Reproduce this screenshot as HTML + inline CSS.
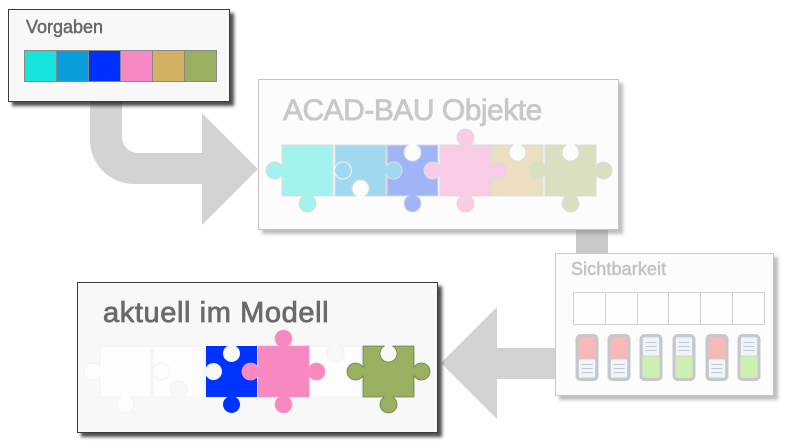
<!DOCTYPE html>
<html><head><meta charset="utf-8">
<style>
html,body{margin:0;padding:0;background:#fff;}
svg{display:block;}
text{font-family:"Liberation Sans",sans-serif;}
</style></head>
<body>
<svg width="790" height="444" viewBox="0 0 790 444" xmlns="http://www.w3.org/2000/svg">
<defs>
<filter id="sd" x="-10%" y="-10%" width="130%" height="130%">
<feDropShadow dx="4" dy="4" stdDeviation="1.5" flood-color="#222" flood-opacity="0.8"/>
</filter>
<filter id="sl" x="-10%" y="-10%" width="130%" height="130%">
<feDropShadow dx="4" dy="4" stdDeviation="1.5" flood-color="#888" flood-opacity="0.55"/>
</filter>
</defs>

<!-- connectors -->
<path d="M90 100 L122 100 L122 137 A16 16 0 0 0 138 153 L202 153 L202 113 L258 169 L202 225 L202 184 L134 184 A44 44 0 0 1 90 140 Z" fill="#d3d3d3"/>
<rect x="576" y="226" width="32" height="28" fill="#c8c8c8"/>
<path d="M556 348 L497 348 L497 307 L441 363 L497 419 L497 379 L556 379 Z" fill="#d2d2d2"/>

<!-- Vorgaben -->
<rect x="8.5" y="9.5" width="221" height="92" fill="#f8f8f8" stroke="#3a3a3a" stroke-width="1" filter="url(#sd)"/>
<text x="26" y="33" font-size="18" fill="#686868" stroke="#686868" stroke-width="0.5">Vorgaben</text>
<g stroke="#888" stroke-width="1">
<rect x="24.5" y="50.5" width="32" height="31" fill="#14e4dc"/>
<rect x="56.5" y="50.5" width="32" height="31" fill="#0c9edc"/>
<rect x="88.5" y="50.5" width="32" height="31" fill="#0030ff"/>
<rect x="120.5" y="50.5" width="32" height="31" fill="#f888c4"/>
<rect x="152.5" y="50.5" width="32" height="31" fill="#d4b062"/>
<rect x="184.5" y="50.5" width="32" height="31" fill="#9ab060"/>
</g>

<!-- ACAD-BAU Objekte -->
<rect x="258.5" y="79.5" width="360" height="150" fill="#fcfcfc" stroke="#c4c4c4" stroke-width="1" filter="url(#sl)"/>
<text x="283" y="120" font-size="30" fill="#c8c8c8" stroke="#c8c8c8" stroke-width="0.8" letter-spacing="-0.5">ACAD-BAU Objekte</text>
<g stroke="#dcdcdc" stroke-width="1">
<path fill="#a2f2ee" d="M282 145 L333 145 L333 196 L311.5 196 A8.5 8.5 0 1 1 303.5 196 L282 196 L282 174.5 A8.5 8.5 0 1 1 282 166.5 Z"/>
<path fill="#a0b4f8" d="M387 145 L408.5 145 A8.5 8.5 0 1 0 416.5 145 L438 145 L438 196 L416.5 196 A8.5 8.5 0 1 1 408.5 196 L387 196 Z"/>
<path fill="#a0d8f0" d="M335 145 L386 145 L386 166.5 A8.5 8.5 0 1 1 386 174.5 L386 196 L364.5 196 A8.5 8.5 0 1 0 356.5 196 L335 196 Z"/>
<circle cx="343" cy="170.5" r="8.5" fill="#a0d8f0" stroke="#f4f4f4"/>
<path fill="#ecdfc0" d="M492 145 L513.5 145 A8.5 8.5 0 1 0 521.5 145 L543 145 L543 196 L492 196 Z"/>
<path fill="#f9cce6" d="M440 145 L461.5 145 A8.5 8.5 0 1 1 469.5 145 L491 145 L491 166.5 A8.5 8.5 0 1 1 491 174.5 L491 196 L469.5 196 A8.5 8.5 0 1 1 461.5 196 L440 196 L440 174.5 A8.5 8.5 0 1 1 440 166.5 Z"/>
<path fill="#d8e0c0" d="M545 145 L566.5 145 A8.5 8.5 0 1 0 574.5 145 L596 145 L596 166.5 A8.5 8.5 0 1 1 596 174.5 L596 196 L574.5 196 A8.5 8.5 0 1 1 566.5 196 L545 196 L545 174.5 A8.5 8.5 0 1 1 545 166.5 Z"/>
</g>

<!-- Sichtbarkeit -->
<rect x="555.5" y="253.5" width="218" height="142" fill="#fcfcfc" stroke="#c8c8c8" stroke-width="1" filter="url(#sl)"/>
<text x="571" y="275" font-size="18" fill="#c2c2c2" stroke="#c2c2c2" stroke-width="0.5" letter-spacing="0.1">Sichtbarkeit</text>
<g stroke="#d6d0d0" stroke-width="1" fill="#fefefe">
<rect x="573.5" y="292.5" width="32" height="32"/>
<rect x="605.5" y="292.5" width="32" height="32"/>
<rect x="637.5" y="292.5" width="31" height="32"/>
<rect x="668.5" y="292.5" width="32" height="32"/>
<rect x="700.5" y="292.5" width="32" height="32"/>
<rect x="732.5" y="292.5" width="32" height="32"/>
</g>

<!-- toggles -->
<g id="tr">
<rect x="575.5" y="334" width="23" height="47" rx="5" fill="#c4c8cc"/>
<rect x="578.5" y="337" width="17" height="41" rx="2" fill="#f6b9b6"/>
<rect x="578.5" y="359" width="17" height="19" rx="2" fill="#eef4fa" stroke="#c8ced4" stroke-width="0.8"/>
<g stroke="#c0c8d0" stroke-width="1"><line x1="581.5" y1="364.5" x2="592.5" y2="364.5"/><line x1="581.5" y1="368.5" x2="592.5" y2="368.5"/><line x1="581.5" y1="372.5" x2="592.5" y2="372.5"/></g>
</g>
<use href="#tr" x="32"/>
<use href="#tr" x="130"/>
<g id="tg" transform="translate(64,0)">
<rect x="575.5" y="334" width="23" height="47" rx="5" fill="#c4c8cc"/>
<rect x="578.5" y="337" width="17" height="41" rx="2" fill="#cdf0b2"/>
<rect x="578.5" y="337" width="17" height="19" rx="2" fill="#eef4fa" stroke="#c8ced4" stroke-width="0.8"/>
<g stroke="#c0c8d0" stroke-width="1"><line x1="581.5" y1="342.5" x2="592.5" y2="342.5"/><line x1="581.5" y1="346.5" x2="592.5" y2="346.5"/><line x1="581.5" y1="350.5" x2="592.5" y2="350.5"/></g>
</g>
<use href="#tg" x="33"/>
<use href="#tg" x="98"/>

<!-- aktuell im Modell -->
<rect x="77.5" y="282.5" width="360" height="150" fill="#f8f8f8" stroke="#3a3a3a" stroke-width="1" filter="url(#sd)"/>
<text x="103" y="322" font-size="29" fill="#6a6a6a" stroke="#6a6a6a" stroke-width="0.8" letter-spacing="0.6">aktuell im Modell</text>
<g stroke="#f3f1f1" stroke-width="1" fill="#fdfdfd">
<path d="M100 346 L151 346 L151 397 L129.5 397 A8.5 8.5 0 1 1 121.5 397 L100 397 L100 375.5 A8.5 8.5 0 1 1 100 367.5 Z"/>
<path d="M153 346 L204 346 L204 397 L182.5 397 A8.5 8.5 0 1 0 174.5 397 L153 397 Z"/>
<circle cx="161" cy="371.5" r="8.5"/>
<path d="M310 346 L331.5 346 A8.5 8.5 0 1 0 339.5 346 L361 346 L361 397 L310 397 Z"/>
</g>
<path fill="#0033ff" d="M206 346 L227.5 346 A8.5 8.5 0 1 0 235.5 346 L257 346 L257 397 L235.5 397 A8.5 8.5 0 1 1 227.5 397 L206 397 L206 375.5 A8.5 8.5 0 1 0 206 367.5 Z"/>
<path fill="#f888c0" stroke="#f0a0c8" stroke-width="0.8" d="M258 346 L279.5 346 A8.5 8.5 0 1 1 287.5 346 L309 346 L309 367.5 A8.5 8.5 0 1 1 309 375.5 L309 397 L287.5 397 A8.5 8.5 0 1 1 279.5 397 L258 397 L258 375.5 A8.5 8.5 0 1 1 258 367.5 Z"/>
<path fill="#98b060" stroke="#6f7f50" stroke-width="0.8" d="M363 346 L384.5 346 A8.5 8.5 0 1 0 392.5 346 L414 346 L414 367.5 A8.5 8.5 0 1 1 414 375.5 L414 397 L392.5 397 A8.5 8.5 0 1 1 384.5 397 L363 397 L363 375.5 A8.5 8.5 0 1 1 363 367.5 Z"/>
</svg>
</body></html>
